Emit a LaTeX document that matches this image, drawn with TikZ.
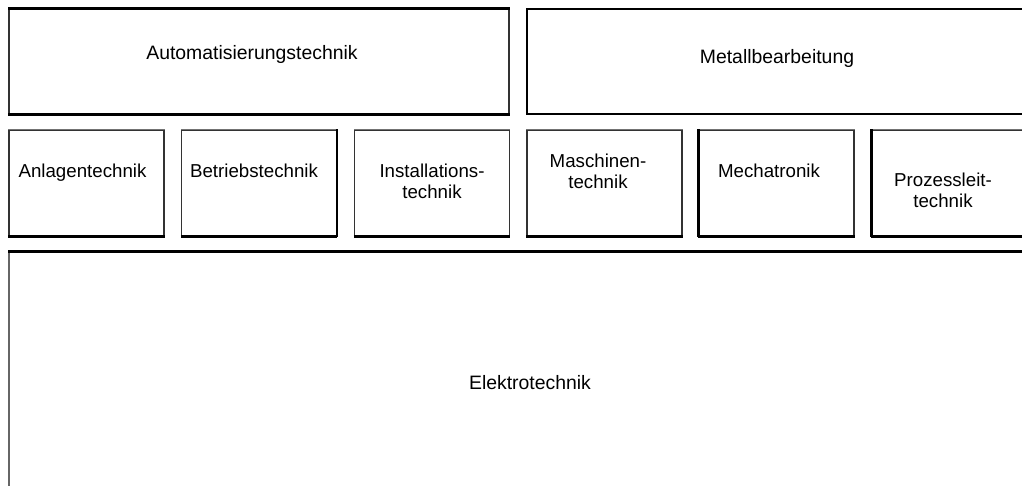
\documentclass[tikz,border=0pt]{standalone}
\usepackage{fontspec}
\setmainfont{Liberation Sans}
\begin{document}
\begin{tikzpicture}[x=1pt,y=-1pt,
  boxshape/.style={draw=black!80,line width=1.3pt,rectangle,inner sep=0pt},
  bigbox/.style={boxshape,minimum width=500pt,minimum height=105pt},
  smallbox/.style={boxshape,minimum width=155pt,minimum height=106pt},
  heavy/.style={line width=2.6pt,black},
  light/.style={line width=1.2pt,black!55},
  lbl/.style={font=\fontsize{18.7}{20.5}\selectfont,align=center,inner sep=0pt,anchor=base},
  biglbl/.style={lbl,font=\fontsize{19.4}{21}\selectfont}]
\useasboundingbox (0,0) rectangle (1022,486);
\clip (0,0) rectangle (1022,486);
% top row
\node[bigbox] (auto) at (259,61.5) {};
\node[bigbox,draw=black,line width=2.4pt] (metall) at (777,61.5) {};
\draw[heavy] (auto.north west) -- (auto.north east);
\draw[heavy] (auto.south west) -- (auto.south east);
% middle row
\node[smallbox] (anlagen) at (86.5,183) {};
\node[smallbox] (betrieb) at (259,183) {};
\node[smallbox] (install) at (432,183) {};
\node[smallbox] (maschinen) at (604.5,183) {};
\node[smallbox] (mecha) at (776.5,183) {};
\node[smallbox] (prozess) at (949.5,183) {};
\foreach \n in {anlagen,betrieb,install,maschinen,mecha,prozess}{
  \draw[light] (\n.north west) -- (\n.north east);
  \draw[heavy] (\n.south west) -- (\n.south east);
}
\draw[heavy] (betrieb.north east) -- (betrieb.south east);
\draw[heavy] (mecha.north west) -- (mecha.south west);
\draw[heavy] (prozess.north west) -- (prozess.south west);
% bottom
\node[boxshape,minimum width=1044pt,minimum height=262pt,draw=black!60] (elektro) at (531,383) {};
\draw[heavy] (elektro.north west) -- (elektro.north east);
% labels
\node[biglbl] (tauto) at (252,60) {Automatisierungstechnik};
\node[biglbl] (tmetall) at (777,64) {Metallbearbeitung};
\node[lbl] (tanlagen) at (82.5,178) {Anlagentechnik};
\node[lbl] (tbetrieb) at (254,178) {Betriebstechnik};
\node[lbl] (tinstall) at (432,198.5) {Installations-\\technik};
\node[lbl] (tmaschinen) at (598,188.5) {Maschinen-\\technik};
\node[lbl] (tmecha) at (769,178) {Mechatronik};
\node[lbl] (tprozess) at (943,207.5) {Prozessleit-\\technik};
\node[biglbl] (telektro) at (530,389) {Elektrotechnik};
\end{tikzpicture}
\end{document}
